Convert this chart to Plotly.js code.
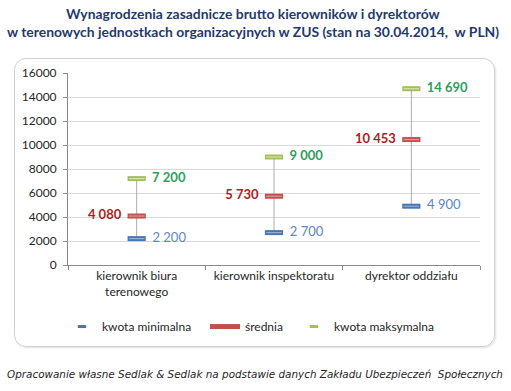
<!DOCTYPE html>
<html>
<head>
<meta charset="utf-8">
<script src="https://cdn.plot.ly/plotly-3.0.1.min.js"></script>
<style>
html,body{margin:0;padding:0;background:#fff;}
#wrap{position:relative;width:511px;height:391px;}
#box{position:absolute;left:14px;top:58px;width:479px;height:287px;border:1px solid #d0d0d0;border-radius:12px;box-shadow:1px 1px 2px rgba(0,0,0,0.12);}
#chart{position:absolute;left:0;top:0;width:511px;height:391px;}
</style>
</head>
<body>
<div id="wrap"><div id="box"></div><div id="chart"></div></div>
<script>
var categories = ["kierownik biura<br>terenowego", "kierownik inspektoratu", "dyrektor oddziału"];
var minValues = [2200, 2700, 4900];
var meanValues = [4080, 5730, 10453];
var maxValues = [7200, 9000, 14690];
var yTicks = [0, 2000, 4000, 6000, 8000, 10000, 12000, 14000, 16000];
var seriesNames = ["kwota minimalna", "średnia", "kwota maksymalna"];

var NB = "\u00a0";
function fmt(v){ return String(v).replace(/\B(?=(\d{3})+(?!\d))/g, " "); }
function right(v){ return NB + NB + fmt(v); }
function left(v){ return fmt(v) + NB + NB; }

var font = "Lato, 'Open Sans', sans-serif";
var cBlue = "#4a76b0", cRed = "#c0504d", cGreen = "#a4be5c";

function mk(color){ return {symbol: "line-ew-open", size: 13, color: color, line: {width: 5, color: color}}; }
function hl(color){ return {symbol: "line-ew-open", size: 11, color: color, line: {width: 1.2, color: color}}; }

var traces = [
  {
    x: categories, y: minValues, name: seriesNames[0], type: "scatter",
    mode: "markers+text", text: minValues.map(right), textposition: "middle right",
    textfont: {family: font, size: 13, color: "#5b87c2"},
    marker: mk(cBlue),
    error_y: {type: "data", symmetric: false, array: maxValues.map(function(v,i){return v-minValues[i];}),
              arrayminus: minValues.map(function(){return 0;}), width: 0, thickness: 1, color: "#a6adb8"},
    showlegend: false, cliponaxis: false
  },
  {
    x: categories, y: meanValues, name: seriesNames[1], type: "scatter",
    mode: "markers+text", text: meanValues.map(left), textposition: "middle left",
    textfont: {family: font, size: 13, color: "#b01c1c", weight: "bold"},
    marker: mk(cRed),
    showlegend: false, cliponaxis: false
  },
  {
    x: categories, y: maxValues, name: seriesNames[2], type: "scatter",
    mode: "markers+text", text: maxValues.map(right), textposition: "middle right",
    textfont: {family: font, size: 13, color: "#2e9e5b", weight: "bold"},
    marker: mk(cGreen),
    showlegend: false, cliponaxis: false
  },
  // subtle highlight on the markers (3D look)
  {x: categories, y: minValues, type: "scatter", mode: "markers", marker: hl("#8fb0dc"), showlegend: false, hoverinfo: "skip"},
  {x: categories, y: meanValues, type: "scatter", mode: "markers", marker: hl("#e19896"), showlegend: false, hoverinfo: "skip"},
  {x: categories, y: maxValues, type: "scatter", mode: "markers", marker: hl("#d6e5a6"), showlegend: false, hoverinfo: "skip"},
  // legend entries
  {x: [null], y: [null], name: seriesNames[0], type: "scatter", mode: "markers", legend: "legend",
   marker: {symbol: "line-ew-open", size: 6, color: cBlue, line: {width: 3, color: cBlue}}},
  {x: [null], y: [null], name: seriesNames[1], type: "scatter", mode: "lines", legend: "legend2",
   line: {color: cRed, width: 5}},
  {x: [null], y: [null], name: seriesNames[2], type: "scatter", mode: "markers", legend: "legend3",
   marker: {symbol: "line-ew-open", size: 6, color: cGreen, line: {width: 3, color: cGreen}}}
];

function leg(x){
  return {orientation: "h", x: x, y: -0.245, xanchor: "left", yanchor: "top", bgcolor: "rgba(0,0,0,0)",
          font: {family: font, size: 12, color: "#262626"}, itemsizing: "trimmed"};
}

var layout = {
  width: 511, height: 391,
  margin: {l: 68, r: 31, t: 73, b: 126},
  paper_bgcolor: "rgba(0,0,0,0)", plot_bgcolor: "rgba(0,0,0,0)",
  xaxis: {type: "category", range: [-0.5, 2.5], showgrid: false, showline: true, linecolor: "#8a8a8a", linewidth: 1,
          ticks: "outside", ticklen: 4, tickcolor: "#8a8a8a", tickson: "boundaries",
          tickfont: {family: font, size: 12, color: "#262626"}, fixedrange: true},
  yaxis: {range: [0, 16000], tickvals: yTicks, ticktext: yTicks.map(String), showgrid: true, gridcolor: "#d9d9d9",
          showline: true, linecolor: "#8a8a8a", ticks: "outside", ticklen: 4, tickcolor: "#8a8a8a",
          zeroline: false, tickfont: {family: font, size: 12, color: "#262626"}, ticklabelstandoff: 4},
  showlegend: true,
  legend: leg(-0.0146),
  legend2: leg(0.3325),
  legend3: leg(0.5485),
  annotations: [
    {xref: "paper", yref: "paper", x: 0.45, y: (265-14)/192, xanchor: "center", yanchor: "middle", showarrow: false,
     text: "<b>Wynagrodzenia zasadnicze brutto kierowników i dyrektorów</b>",
     font: {family: font, size: 13.9, color: "#1f3a6e"}},
    {xref: "paper", yref: "paper", x: 0.45, y: (265-32)/192, xanchor: "center", yanchor: "middle", showarrow: false,
     text: "<b>w terenowych jednostkach organizacyjnych w ZUS (stan na 30.04.2014,  w PLN)</b>",
     font: {family: font, size: 13.9, color: "#1f3a6e"}},
    {xref: "paper", yref: "paper", x: (255-68)/412, y: (265-374)/192, xanchor: "center", yanchor: "middle", showarrow: false,
     text: "<i>Opracowanie własne Sedlak &amp; Sedlak na podstawie danych Zakładu Ubezpieczeń  Społecznych</i>",
     font: {family: "'DejaVu Sans', sans-serif", size: 10.4, color: "#262626"}}
  ]
};
Plotly.newPlot("chart", traces, layout, {displayModeBar: false, staticPlot: true});
</script>
</body>
</html>
